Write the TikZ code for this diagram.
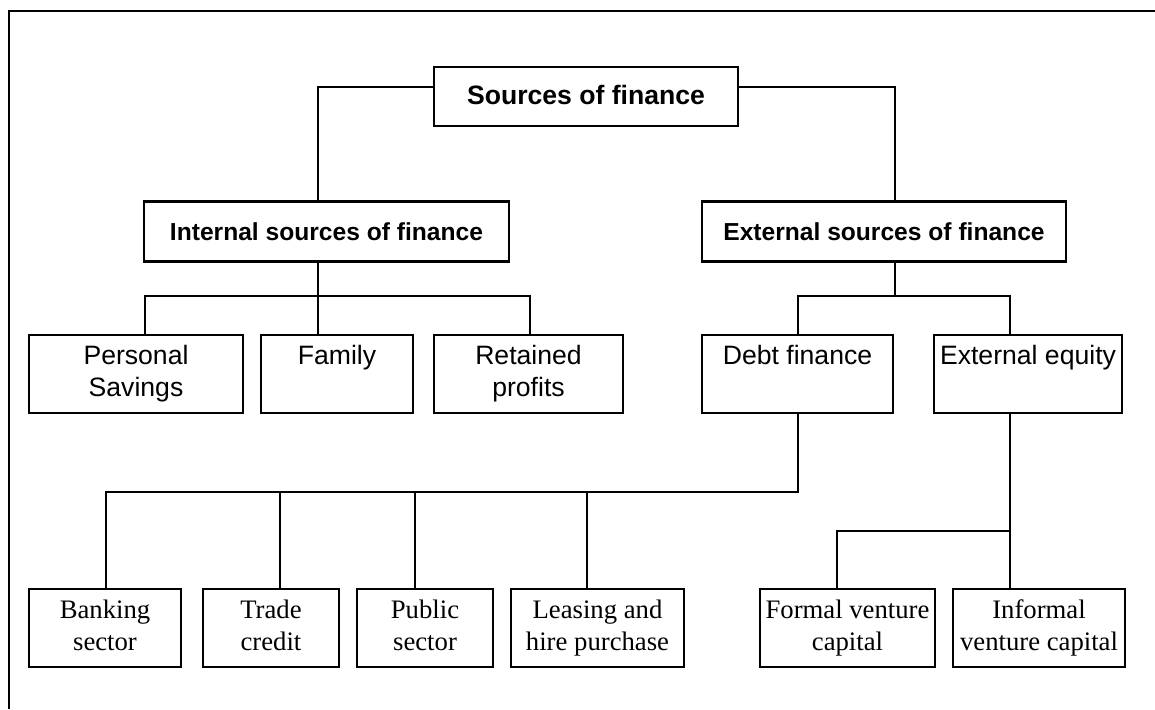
\documentclass[tikz,border=0pt]{standalone}
\usepackage{fontspec}
\setmainfont{Liberation Serif}
\newfontfamily\arialf{Liberation Sans}
\begin{document}
\begin{tikzpicture}[x=1pt,y=-1pt,
  box/.style={draw,line width=2.8pt,rectangle,inner sep=0pt,align=center},
  topbox/.style={box,minimum height=60pt,font=\arialf\bfseries\fontsize{24.6}{30}\selectfont},
  midbox/.style={box,minimum height=78pt,font=\arialf\fontsize{26.6}{32}\selectfont},
  lowbox/.style={box,minimum height=78pt,font=\fontsize{26.7}{32}\selectfont},
  conn/.style={line width=2.5pt}]
\useasboundingbox (0,0) rectangle (1155,709);
\draw[line width=2.5pt] (9,709) -- (9,11) -- (1155,11);
% level 0
\node[topbox,minimum width=304pt,minimum height=59pt,font=\arialf\bfseries\fontsize{26.6}{32}\selectfont] (src) at (586,96.5) {\raisebox{4pt}{Sources of finance}};
% level 1
\node[topbox,minimum width=365pt] (int) at (326.5,231.5) {Internal sources of finance};
\node[topbox,minimum width=364pt] (ext) at (884,231.5) {External sources of finance};
% level 2
\node[midbox,minimum width=214pt] (ps) at (136,374) {\strut Personal\\Savings\strut};
\node[midbox,minimum width=152pt] (fam) at (337,374) {\strut Family\\\strut};
\node[midbox,minimum width=189pt] (ret) at (528.5,374) {\strut Retained\\profits\strut};
\node[midbox,minimum width=191pt] (debt) at (797.5,374) {\strut Debt finance\\\strut};
\node[midbox,minimum width=188pt] (eq) at (1028,374) {\strut External equity\\\strut};
% level 3
\node[lowbox,minimum width=152pt] (bank) at (105,628) {\strut Banking\\sector\strut};
\node[lowbox,minimum width=136pt] (trade) at (271,628) {\strut Trade\\credit\strut};
\node[lowbox,minimum width=136pt] (pub) at (425,628) {\strut Public\\sector\strut};
\node[lowbox,minimum width=173pt] (lease) at (597.5,628) {\strut Leasing and\\hire purchase\strut};
\node[lowbox,minimum width=175pt] (formal) at (847.5,628) {\strut Formal venture\\capital\strut};
\node[lowbox,minimum width=172pt] (inf) at (1039,628) {\strut Informal\\venture capital\strut};
% connectors
\draw[conn] (src.west |- 0,87) -| (int.north -| 318,0);
\draw[conn] (src.east |- 0,87) -| (ext.north -| 895,0);
\draw[conn] (int.south -| 318,0) -- (fam.north -| 318,0);
\draw[conn] (ps.north -| 145,0) -- (145,296) -- (530,296) -- (ret.north -| 530,0);
\draw[conn] (ext.south -| 895,0) -- (895,296);
\draw[conn] (debt.north -| 798,0) -- (798,296) -- (1010,296) -- (eq.north -| 1010,0);
\draw[conn] (debt.south -| 798,0) -- (798,492) -- (106,492) -- (bank.north -| 106,0);
\draw[conn] (trade.north -| 280,0) -- (280,492);
\draw[conn] (pub.north -| 415,0) -- (415,492);
\draw[conn] (lease.north -| 587,0) -- (587,492);
\draw[conn] (eq.south -| 1010,0) -- (inf.north -| 1010,0);
\draw[conn] (1010,531) -- (837,531) -- (formal.north -| 837,0);
\end{tikzpicture}
\end{document}
